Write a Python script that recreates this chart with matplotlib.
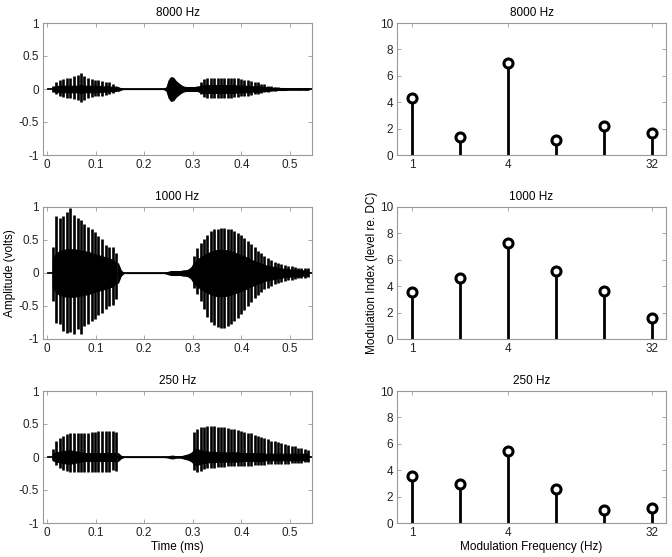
"""
Band envelopes of a speech token and their modulation spectra
"""
import matplotlib
matplotlib.use('Agg')
import matplotlib.pyplot as plt

plt.rcParams['font.family'] = ['Liberation Sans', 'DejaVu Sans']
plt.rcParams['font.size'] = 8.5

# ---------------------------------------------------------------------------
# data
# ---------------------------------------------------------------------------
bands = ['8000 Hz', '1000 Hz', '250 Hz']

# modulation spectra (right column)
mod_freq = [1, 2, 4, 8, 16, 32]
mod_8000 = [4.3, 1.35, 7.0, 1.15, 2.2, 1.65]
mod_1000 = [3.55, 4.65, 7.25, 5.15, 3.65, 1.6]
mod_250 = [3.55, 2.95, 5.45, 2.55, 1.0, 1.1]

# pitch pulse times (s) for the two voiced syllables
pulse_t1 = [0.012, 0.019, 0.026, 0.034, 0.041, 0.048, 0.056, 0.063, 0.070, 0.077,
            0.085, 0.092, 0.099, 0.106, 0.114, 0.121, 0.128, 0.135, 0.143]
pulse_t2 = [0.302, 0.309, 0.316, 0.323, 0.330, 0.337, 0.344, 0.351, 0.358, 0.365,
            0.372, 0.378, 0.385, 0.392, 0.399, 0.406, 0.413, 0.420, 0.427, 0.434,
            0.441, 0.447, 0.454, 0.461, 0.468, 0.475, 0.482, 0.489, 0.496, 0.503,
            0.510, 0.516, 0.523, 0.530, 0.537]
# unvoiced stretches between/after the syllables
noise_t = [0.146, 0.152, 0.158, 0.240, 0.246, 0.250, 0.255, 0.260, 0.265, 0.270,
           0.275, 0.280, 0.285, 0.290, 0.296, 0.302]
signal_span = [0.003, 0.545]

# 8000 Hz band
hi8000_s1 = [0.05, 0.10, 0.14, 0.15, 0.16, 0.17, 0.19, 0.21, 0.25, 0.20,
             0.16, 0.15, 0.14, 0.13, 0.12, 0.11, 0.10, 0.07, 0.04]
lo8000_s1 = [-0.04, -0.07, -0.11, -0.12, -0.13, -0.14, -0.15, -0.16, -0.19, -0.16,
             -0.13, -0.12, -0.11, -0.10, -0.10, -0.09, -0.08, -0.06, -0.03]
core8000_s1 = [0.03, 0.04, 0.05, 0.05, 0.05, 0.05, 0.05, 0.05, 0.06, 0.05,
               0.05, 0.05, 0.05, 0.05, 0.04, 0.04, 0.04, 0.03, 0.03]
hi8000_s2 = [0.03, 0.04, 0.10, 0.15, 0.16, 0.17, 0.17, 0.17, 0.17, 0.17,
             0.17, 0.17, 0.16, 0.16, 0.15, 0.14, 0.13, 0.12, 0.11, 0.10,
             0.08, 0.07, 0.05, 0.04, 0.03, 0.025, 0.02, 0.02, 0.015, 0.015,
             0.015, 0.01, 0.01, 0.01, 0.01]
lo8000_s2 = [-0.03, -0.03, -0.08, -0.12, -0.13, -0.13, -0.13, -0.13, -0.13, -0.13,
             -0.13, -0.13, -0.12, -0.12, -0.11, -0.11, -0.10, -0.09, -0.08, -0.07,
             -0.06, -0.05, -0.04, -0.03, -0.025, -0.02, -0.02, -0.015, -0.015, -0.015,
             -0.01, -0.01, -0.01, -0.01, -0.01]
core8000_s2 = [0.03, 0.03, 0.05, 0.06, 0.06, 0.06, 0.06, 0.06, 0.06, 0.06,
               0.06, 0.06, 0.06, 0.05, 0.05, 0.05, 0.05, 0.04, 0.04, 0.04,
               0.03, 0.03, 0.03, 0.02, 0.02, 0.015, 0.015, 0.015, 0.01, 0.01,
               0.01, 0.01, 0.01, 0.01, 0.01]
noise8000 = [0.03, 0.01, 0.0, 0.0, 0.03, 0.13, 0.18, 0.17, 0.12, 0.09,
             0.06, 0.04, 0.03, 0.03, 0.03, 0.03]

# 1000 Hz band
hi1000_s1 = [0.40, 0.87, 0.84, 0.86, 0.93, 0.98, 0.88, 0.83, 0.80, 0.74,
             0.70, 0.66, 0.62, 0.56, 0.52, 0.42, 0.40, 0.40, 0.30]
lo1000_s1 = [-0.42, -0.76, -0.78, -0.88, -0.91, -0.90, -0.92, -0.85, -0.92, -0.80,
             -0.78, -0.72, -0.70, -0.64, -0.60, -0.55, -0.50, -0.48, -0.40]
core1000_s1 = [0.20, 0.30, 0.33, 0.35, 0.36, 0.36, 0.36, 0.35, 0.34, 0.33,
               0.32, 0.30, 0.28, 0.27, 0.25, 0.24, 0.22, 0.20, 0.15]
hi1000_s2 = [0.25, 0.38, 0.45, 0.52, 0.58, 0.63, 0.66, 0.67, 0.68, 0.68,
             0.67, 0.66, 0.64, 0.61, 0.57, 0.53, 0.48, 0.44, 0.39, 0.34,
             0.30, 0.26, 0.23, 0.20, 0.17, 0.15, 0.13, 0.12, 0.11, 0.10,
             0.09, 0.08, 0.08, 0.07, 0.07]
lo1000_s2 = [-0.22, -0.32, -0.42, -0.55, -0.66, -0.74, -0.79, -0.82, -0.84, -0.83,
             -0.80, -0.77, -0.73, -0.68, -0.62, -0.56, -0.50, -0.44, -0.38, -0.33,
             -0.29, -0.25, -0.22, -0.19, -0.17, -0.15, -0.13, -0.12, -0.11, -0.10,
             -0.09, -0.08, -0.07, -0.07, -0.06]
core1000_s2 = [0.15, 0.20, 0.24, 0.27, 0.30, 0.32, 0.34, 0.35, 0.35, 0.35,
               0.34, 0.33, 0.31, 0.29, 0.27, 0.25, 0.23, 0.20, 0.18, 0.16,
               0.14, 0.12, 0.11, 0.10, 0.09, 0.08, 0.07, 0.06, 0.06, 0.05,
               0.05, 0.05, 0.04, 0.04, 0.04]
noise1000 = [0.15, 0.04, 0.0, 0.0, 0.01, 0.02, 0.03, 0.03, 0.03, 0.03,
             0.03, 0.04, 0.04, 0.05, 0.08, 0.15]

# 250 Hz band
hi250_s1 = [0.12, 0.25, 0.29, 0.32, 0.35, 0.36, 0.37, 0.37, 0.37, 0.37,
            0.37, 0.38, 0.38, 0.39, 0.39, 0.40, 0.40, 0.40, 0.38]
lo250_s1 = [-0.05, -0.12, -0.16, -0.19, -0.21, -0.23, -0.23, -0.23, -0.23, -0.23,
            -0.23, -0.23, -0.23, -0.23, -0.23, -0.23, -0.23, -0.20, -0.21]
core250_s1 = [0.05, 0.07, 0.08, 0.09, 0.10, 0.10, 0.09, 0.08, 0.07, 0.06,
              0.06, 0.06, 0.06, 0.06, 0.06, 0.06, 0.06, 0.06, 0.06]
hi250_s2 = [0.38, 0.43, 0.45, 0.46, 0.47, 0.47, 0.47, 0.46, 0.46, 0.45,
            0.44, 0.43, 0.42, 0.41, 0.40, 0.38, 0.37, 0.36, 0.34, 0.32,
            0.30, 0.29, 0.27, 0.25, 0.24, 0.22, 0.21, 0.19, 0.18, 0.17,
            0.16, 0.14, 0.13, 0.12, 0.11]
lo250_s2 = [-0.20, -0.23, -0.21, -0.18, -0.17, -0.16, -0.16, -0.15, -0.15, -0.15,
            -0.14, -0.14, -0.14, -0.14, -0.13, -0.13, -0.13, -0.13, -0.12, -0.12,
            -0.12, -0.12, -0.11, -0.11, -0.11, -0.10, -0.10, -0.10, -0.10, -0.09,
            -0.09, -0.09, -0.09, -0.08, -0.08]
core250_s2 = [0.12, 0.12, 0.10, 0.09, 0.08, 0.08, 0.08, 0.07, 0.07, 0.07,
              0.07, 0.07, 0.07, 0.07, 0.06, 0.06, 0.06, 0.06, 0.06, 0.06,
              0.06, 0.05, 0.05, 0.05, 0.05, 0.05, 0.05, 0.05, 0.05, 0.05,
              0.05, 0.05, 0.05, 0.05, 0.05]
noise250 = [0.06, 0.02, 0.0, 0.0, 0.005, 0.01, 0.02, 0.02, 0.01, 0.01,
            0.01, 0.02, 0.03, 0.04, 0.06, 0.10]

waves = [
    (hi8000_s1, lo8000_s1, core8000_s1, hi8000_s2, lo8000_s2, core8000_s2, noise8000),
    (hi1000_s1, lo1000_s1, core1000_s1, hi1000_s2, lo1000_s2, core1000_s2, noise1000),
    (hi250_s1, lo250_s1, core250_s1, hi250_s2, lo250_s2, core250_s2, noise250),
]
spectra = [mod_8000, mod_1000, mod_250]

# ---------------------------------------------------------------------------
# figure
# ---------------------------------------------------------------------------
W, H = 672, 557
fig = plt.figure(figsize=(W / 100, H / 100), dpi=100)

rows_top = [23, 207, 391]
ax_h = 132
frame = '#999999'


def style(ax):
    for s in ax.spines.values():
        s.set_color(frame)
        s.set_linewidth(0.8)
    ax.tick_params(direction='in', length=3, width=0.6, color=frame,
                   top=True, right=True, labelsize=8.5, labelcolor='#222222', pad=3)


for i, band in enumerate(bands):
    bottom = 1 - (rows_top[i] + ax_h) / H
    axl = fig.add_axes([43 / W, bottom, 269 / W, ax_h / H])
    axr = fig.add_axes([397 / W, bottom, 269 / W, ax_h / H])

    hi1, lo1, core1, hi2, lo2, core2, noise = waves[i]
    axl.plot(signal_span, [0, 0], color='k', lw=1.3)
    axl.vlines(pulse_t1, lo1, hi1, color='k', lw=1.9)
    axl.vlines(pulse_t2, lo2, hi2, color='k', lw=1.9)
    axl.fill_between(pulse_t1, [-c for c in core1], core1, color='k', lw=0.8)
    axl.fill_between(pulse_t2, [-c for c in core2], core2, color='k', lw=0.8)
    axl.fill_between(noise_t, [-n for n in noise], noise, color='k', lw=0.8)
    axl.set_xlim(-0.008, 0.545)
    axl.set_ylim(-1, 1)
    axl.set_xticks([0, 0.1, 0.2, 0.3, 0.4, 0.5])
    axl.set_xticklabels(['0', '0.1', '0.2', '0.3', '0.4', '0.5'])
    axl.set_yticks([-1, -0.5, 0, 0.5, 1])
    axl.set_yticklabels(['-1', '-0.5', '0', '0.5', '1'])
    axl.set_title(band, fontsize=8.5, pad=5)
    style(axl)

    ml, sl, bl = axr.stem(mod_freq, spectra[i], linefmt='k-', basefmt='none')
    plt.setp(sl, linewidth=2)
    plt.setp(ml, marker='o', markersize=6.5, markerfacecolor='white',
             markeredgecolor='k', markeredgewidth=2.2)
    axr.set_xscale('log', base=2)
    axr.set_xlim(0.8, 39)
    axr.set_ylim(0, 10)
    axr.set_xticks([1, 4, 32])
    axr.set_xticklabels(['1', '4', '32'])
    axr.xaxis.set_minor_locator(matplotlib.ticker.NullLocator())
    axr.set_yticks([0, 2, 4, 6, 8, 10])
    axr.set_title(band, fontsize=8.5, pad=5)
    style(axr)

    if i == 1:
        axl.set_ylabel('Amplitude (volts)', fontsize=8.5, labelpad=2)
        axr.set_ylabel('Modulation Index (level re. DC)', fontsize=8.5, labelpad=1)
    if i == 2:
        axl.set_xlabel('Time (ms)', fontsize=8.5, labelpad=1)
        axr.set_xlabel('Modulation Frequency (Hz)', fontsize=8.5, labelpad=1)

fig.savefig('out.png', dpi=100)
